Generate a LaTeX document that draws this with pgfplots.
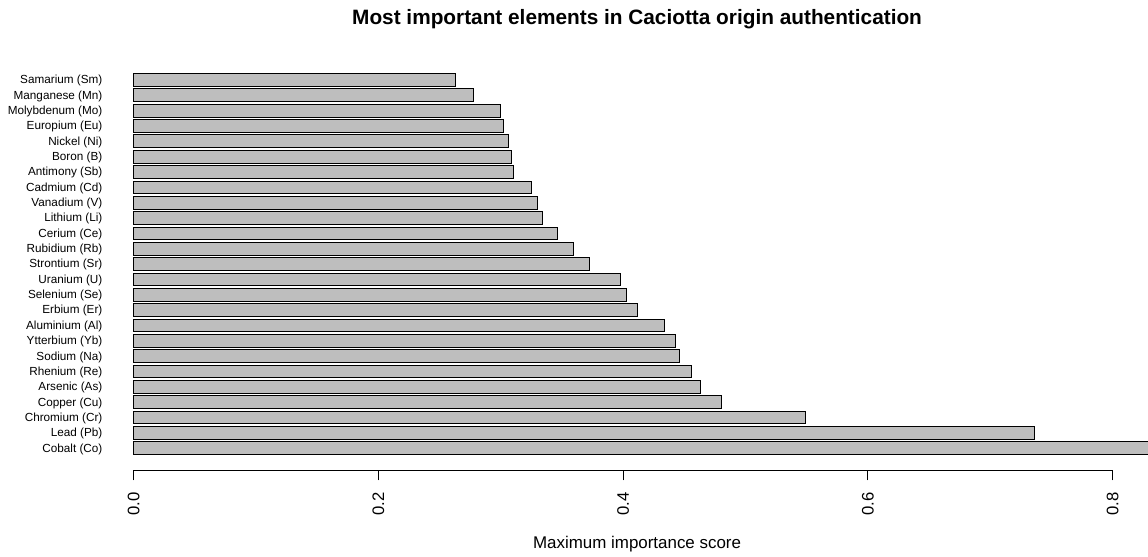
\documentclass[border=0pt]{standalone}
\usepackage{pgfplots}
\pgfplotsset{compat=1.18}
\usepackage{fontspec}
\setmainfont{Liberation Sans}
\definecolor{bargray}{HTML}{BEBEBE}
\begin{document}
\begin{tikzpicture}
\useasboundingbox (-100.3pt,-64.35pt) rectangle (760.7pt,352.7pt);
\begin{axis}[
  scale only axis,
  width=760.7pt, height=308.6pt,
  xmin=0, xmax=0.8289,
  ymin=-0.435, ymax=26.38,
  clip=false,
  axis lines*=left,
  axis line style={draw=none},
  xbar, bar width=0.83,
  xtick={0,0.2,0.4,0.6,0.8},
  xticklabels={0.0,0.2,0.4,0.6,0.8},
  tick align=outside,
  major tick length=7.5pt,
  x tick style={black, line width=0.75pt},
  ytick style={draw=none},
  ytick={1,...,25},
  yticklabels={Cobalt (Co),Lead (Pb),Chromium (Cr),Copper (Cu),Arsenic (As),Rhenium (Re),Sodium (Na),Ytterbium (Yb),Aluminium (Al),Erbium (Er),Selenium (Se),Uranium (U),Strontium (Sr),Rubidium (Rb),Cerium (Ce),Lithium (Li),Vanadium (V),Cadmium (Cd),Antimony (Sb),Boron (B),Nickel (Ni),Europium (Eu),Molybdenum (Mo),Manganese (Mn),Samarium (Sm)},
  yticklabel style={font=\fontsize{8.8}{10}\selectfont, anchor=east, xshift=-12.5pt, yshift=-0.6pt},
  xticklabel style={font=\fontsize{12.5}{14}\selectfont, rotate=90, anchor=east, inner sep=0pt, xshift=-9pt},
  /pgf/number format/assume math mode=true,
]
\addplot[draw=black, fill=bargray, line width=0.75pt] coordinates {
(0.87,1) (0.7365,2) (0.5491,3) (0.4802,4) (0.4633,5) (0.4562,6) (0.4464,7) (0.4429,8) (0.4339,9) (0.4118,10) (0.4029,11) (0.3977,12) (0.3721,13) (0.3596,14) (0.3462,15) (0.3339,16) (0.3301,17) (0.3249,18) (0.3105,19) (0.3089,20) (0.3061,21) (0.3018,22) (0.2999,23) (0.2778,24) (0.2626,25)
};
\draw[black, line width=0.75pt] (axis cs:0,-0.435) -- (axis cs:0.8,-0.435);
\end{axis}
\node[anchor=base, font=\fontsize{15.6}{18}\selectfont\bfseries] at (377.5pt,334pt) {Most important elements in Caciotta origin authentication};
\node[anchor=base, font=\fontsize{12.7}{15}\selectfont] at (377.5pt,-59.05pt) {Maximum importance score};
\end{tikzpicture}
\end{document}
